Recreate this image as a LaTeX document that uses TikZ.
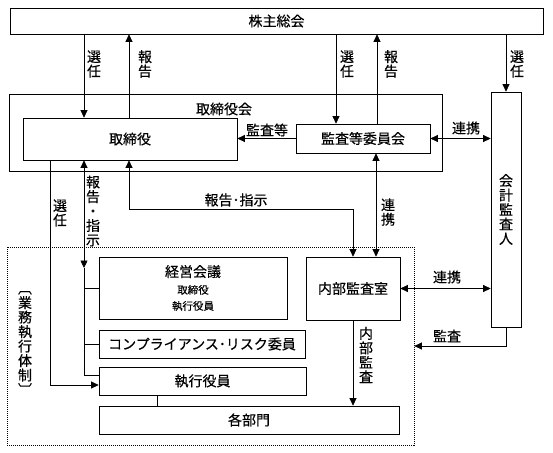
\documentclass[tikz,border=0pt]{standalone}
\usepackage{fontspec}
\setmainfont{Noto Sans CJK JP}[FakeBold=0.4]
\usetikzlibrary{arrows.meta}
\tikzset{
  box/.style={draw, rectangle, inner sep=0pt, line width=0.7pt, font=\fontsize{14}{16}\selectfont},
  lbl/.style={inner sep=0pt, font=\fontsize{14}{16}\selectfont},
  tate/.style={inner sep=0pt, align=center, font=\fontsize{14}{14.5}\selectfont},
  arr/.style={line width=0.7pt, -{Triangle[length=7.5pt,width=7pt]}},
  darr/.style={line width=0.7pt, {Triangle[length=7.5pt,width=7pt]}-{Triangle[length=7.5pt,width=7pt]}},
  ln/.style={line width=0.7pt}
}
\begin{document}
\begin{tikzpicture}[x=1pt,y=-1pt]
\useasboundingbox (0,0) rectangle (553,452);
\node[box, minimum width=533, minimum height=26] (kabu) at (276.5,21) {株主総会};
\node[box, minimum width=433, minimum height=77] (torikai) at (225.5,132.5) {};
\node[lbl] (torikailbl) at (224,109) {取締役会};
\node[box, minimum width=214, minimum height=42] (tori) at (130,139) {取締役};
\node[box, minimum width=134, minimum height=29] (kansa) at (363,138.5) {監査等委員会};
\node[box, minimum width=30, minimum height=235, align=center, font=\fontsize{14}{14.5}\selectfont] (kaikei) at (506,209.5) {会\\計\\監\\査\\人};
\node[box, dash pattern=on 1pt off 1pt, minimum width=407, minimum height=198] (gyomu) at (210.5,346) {};
\node[tate] (gyomulbl) at (25,343) {︹\\業\\務\\執\\行\\体\\制\\︺};
\node[box, minimum width=188, minimum height=62, align=center, font=\fontsize{10.5}{16}\selectfont] (keiei) at (193,288) {{\fontsize{14}{16}\selectfont 経営会議}\\[1pt]取締役\\執行役員};
\node[box, minimum width=206, minimum height=28] (comp) at (202,344) {コンプライアンス･リスク委員};
\node[box, minimum width=207, minimum height=28] (shikko) at (202.5,381) {執行役員};
\node[box, minimum width=300, minimum height=28] (kakubu) at (249,420) {各部門};
\node[box, minimum width=94, minimum height=63] (naibu) at (353,288.5) {内部監査室};
\draw[arr] (84,0 |- kabu.south) -- (84,0 |- tori.north);
\draw[arr] (129,0 |- tori.north) -- (129,0 |- kabu.south);
\draw[arr] (336,0 |- kabu.south) -- (336,0 |- kansa.north);
\draw[arr] (377,0 |- kansa.north) -- (377,0 |- kabu.south);
\draw[arr] (506,0 |- kabu.south) -- (kaikei.north);
\draw[arr] (kansa.west) -- (kansa.west -| tori.east);
\draw[darr] (kansa.east) -- (kansa.east -| kaikei.west);
\draw[arr] (50,0 |- tori.south) |- ([yshift=-4pt]shikko.west);
\coordinate (hsmid) at (84,268);
\draw[darr] (84,0 |- tori.south) -- (hsmid);
\draw[ln] (hsmid) |- ([yshift=6pt]shikko.west);
\draw[ln] (84,0 |- keiei.west) -- (keiei.west);
\draw[ln] (84,0 |- comp.west) -- (comp.west);
\draw[darr] (129,0 |- tori.south) |- (353,209) -- (353,0 |- naibu.north);
\draw[darr] (376,0 |- kansa.south) -- (376,0 |- naibu.north);
\draw[darr] (naibu.east) -- (naibu.east -| kaikei.west);
\draw[arr] (kaikei.south) |- (gyomu.east);
\draw[arr] (353,0 |- naibu.south) -- (353,0 |- kakubu.north);
\draw[ln] (157,0 |- shikko.south) -- (157,0 |- kakubu.north);
\node[tate] (sen1) at (94,64) {選\\任};
\node[tate] (hou1) at (145,64) {報\\告};
\node[tate] (sen2) at (347,64) {選\\任};
\node[tate] (hou2) at (391,64) {報\\告};
\node[tate] (sen3) at (517,64) {選\\任};
\node[lbl] (kansato) at (267,130) {監査等};
\node[lbl] (renkei1) at (466,128) {連携};
\node[tate] (sen4) at (60,213) {選\\任};
\node[tate] (houshi1) at (93,211) {報\\告\\・\\指\\示};
\node[lbl] (houshi2) at (236,200) {報告･指示};
\node[tate] (renkei2) at (388,212) {連\\携};
\node[lbl] (renkei3) at (447,277) {連携};
\node[lbl] (kansalbl) at (447,336) {監査};
\node[tate] (naibulbl) at (366,355) {内\\部\\監\\査};
\end{tikzpicture}
\end{document}
